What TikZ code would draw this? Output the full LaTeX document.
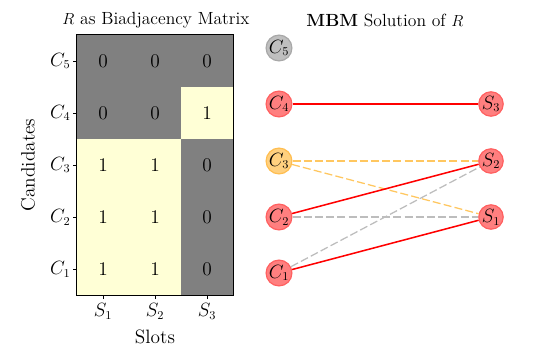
\documentclass[tikz,border=0pt]{standalone}
\usetikzlibrary{positioning}
\definecolor{cellgray}{HTML}{808080}
\definecolor{cellyellow}{HTML}{FFFFD6}
\definecolor{nodered}{HTML}{FF7F7F}
\definecolor{nodereddraw}{HTML}{FF6060}
\definecolor{nodegray}{HTML}{BFBFBF}
\definecolor{nodegraydraw}{HTML}{A8A8A8}
\definecolor{nodeorange}{HTML}{FFD07F}
\definecolor{nodeorangedraw}{HTML}{FFBE50}
\definecolor{edgeorange}{HTML}{FFC760}
\definecolor{edgegray}{HTML}{BDBDBD}
\tikzset{
  cellbox/.style={minimum width=39pt, minimum height=39pt, inner sep=0pt, font=\fontsize{14.5}{16}\selectfont},
  zerocell/.style={cellbox, fill=cellgray},
  onecell/.style={cellbox, fill=cellyellow},
  ticklab/.style={font=\fontsize{13.5}{15}\selectfont, inner sep=1pt},
  axlab/.style={font=\fontsize{14.5}{16}\selectfont, inner sep=0pt},
  ttl/.style={font=\fontsize{13.2}{15}\selectfont, inner sep=0pt},
  vtx/.style={circle, minimum size=17.5pt, inner sep=0pt, line width=0.9pt, font=\fontsize{13.5}{15}\selectfont},
  redv/.style={vtx, fill=nodered, draw=nodereddraw},
  grayv/.style={vtx, fill=nodegray, draw=nodegraydraw},
  orangev/.style={vtx, fill=nodeorange, draw=nodeorangedraw},
  matchedge/.style={red, line width=1.15pt},
  orangeedge/.style={edgeorange, line width=0.95pt, dash pattern=on 6pt off 2.4pt},
  grayedge/.style={edgegray, line width=0.95pt, dash pattern=on 6pt off 2.4pt},
}
\begin{document}
\begin{tikzpicture}[x=0.75pt, y=-0.75pt]
\useasboundingbox (0,0) rectangle (540,360);
% matrix cells
\node[zerocell] (c51) at (103,61) {0};
\node[zerocell] (c52) at (155,61) {0};
\node[zerocell] (c53) at (207,61) {0};
\node[zerocell] (c41) at (103,113) {0};
\node[zerocell] (c42) at (155,113) {0};
\node[onecell]  (c43) at (207,113) {1};
\node[onecell]  (c31) at (103,165) {1};
\node[onecell]  (c32) at (155,165) {1};
\node[zerocell] (c33) at (207,165) {0};
\node[onecell]  (c21) at (103,217) {1};
\node[onecell]  (c22) at (155,217) {1};
\node[zerocell] (c23) at (207,217) {0};
\node[onecell]  (c11) at (103,269) {1};
\node[onecell]  (c12) at (155,269) {1};
\node[zerocell] (c13) at (207,269) {0};
\draw[black, line width=0.8pt] (c51.north west) rectangle (c13.south east);
% ticks and labels
\foreach \r/\y in {5/61,4/113,3/165,2/217,1/269}{
  \coordinate (tl\r) at (73,\y);
  \draw[line width=0.6pt] (tl\r) -- ++(4,0);
  \node[ticklab, anchor=east] (yl\r) at (72,\y) {$C_{\r}$};
}
\foreach \c/\x in {1/103,2/155,3/207}{
  \coordinate (tb\c) at (\x,299);
  \draw[line width=0.6pt] (tb\c) -- ++(0,-4);
  \node[ticklab, anchor=north] (xl\c) at (\x,302) {$S_{\c}$};
}
\node[axlab] (slots) at (155,337) {Slots};
\node[axlab, rotate=90] (cands) at (28,165) {Candidates};
\node[ttl] (t1) at (156,20) {$R$ as Biadjacency Matrix};
\node[ttl] (t2) at (385,20) {\textbf{MBM} Solution of $R$};
% graph
\node[grayv]   (C5) at (279,48)  {$C_5$};
\node[redv]    (C4) at (279,104) {$C_4$};
\node[orangev] (C3) at (279,161) {$C_3$};
\node[redv]    (C2) at (279,217) {$C_2$};
\node[redv]    (C1) at (279,273) {$C_1$};
\node[redv]    (S3) at (491,104) {$S_3$};
\node[redv]    (S2) at (491,161) {$S_2$};
\node[redv]    (S1) at (491,217) {$S_1$};
\draw[orangeedge] (C3) -- (S2);
\draw[orangeedge] (C3) -- (S1);
\draw[grayedge] (C2) -- (S1);
\draw[grayedge] (C1) -- (S2);
\draw[matchedge] (C4) -- (S3);
\draw[matchedge] (C2) -- (S2);
\draw[matchedge] (C1) -- (S1);
\end{tikzpicture}
\end{document}
